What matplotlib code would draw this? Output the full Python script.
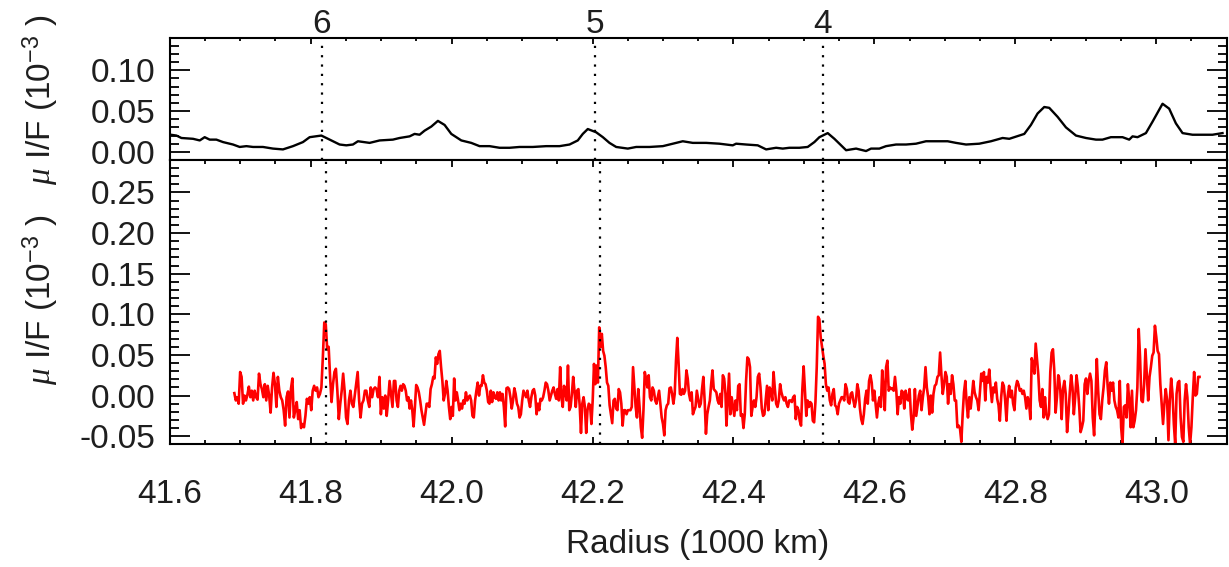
import numpy as np
import matplotlib
matplotlib.use('Agg')
import matplotlib.pyplot as plt
import matplotlib.transforms as mtransforms
from matplotlib.ticker import MultipleLocator, FormatStrFormatter

plt.rcParams['font.family'] = ['Liberation Sans', 'DejaVu Sans']
plt.rcParams['mathtext.fontset'] = 'custom'
plt.rcParams['mathtext.rm'] = 'Liberation Sans'
plt.rcParams['mathtext.it'] = 'Liberation Serif:italic'
plt.rcParams['mathtext.bf'] = 'Liberation Sans:bold'
plt.rcParams['axes.unicode_minus'] = False

# ---- data -------------------------------------------------------------
# top panel: smooth profile (radius in 1000 km, mu I/F in 1e-3)
black_r = [41.6014, 41.6095, 41.6166, 41.6331, 41.6426, 41.6496, 41.6567, 41.6662,
           41.6756, 41.6898, 41.6993, 41.7088, 41.7182, 41.7323, 41.7465, 41.7607,
           41.7749, 41.7891, 41.7986, 41.8152, 41.8270, 41.8411, 41.8506, 41.8600,
           41.8671, 41.8837, 41.8979, 41.9167,
           41.9262, 41.9404, 41.9475, 41.9546, 41.9617, 41.9712, 41.9806, 41.9901,
           41.9996, 42.0138, 42.0279, 42.0397, 42.0539, 42.0681, 42.0823, 42.0965,
           42.1153, 42.1343, 42.1532, 42.1674, 42.1791, 42.1862, 42.1933, 42.2052,
           42.2147, 42.2241, 42.2336, 42.2501, 42.2620, 42.2809, 42.2998, 42.3140,
           42.3281, 42.3423, 42.3613, 42.3801, 42.3990, 42.4038, 42.4180, 42.4345,
           42.4464, 42.4606, 42.4700, 42.4794, 42.4936, 42.5054, 42.5149, 42.5220,
           42.5267, 42.5338, 42.5433, 42.5599, 42.5741, 42.5882, 42.5953, 42.6071,
           42.6166, 42.6308, 42.6450, 42.6591, 42.6733, 42.6875, 42.7040, 42.7159,
           42.7301, 42.7489, 42.7655, 42.7820, 42.7915, 42.8057, 42.8128, 42.8222,
           42.8316, 42.8411, 42.8482, 42.8600, 42.8719, 42.8861, 42.9003, 42.9145,
           42.9238, 42.9357, 42.9522, 42.9617, 42.9664, 42.9735, 42.9854, 42.9948,
           43.0090, 43.0184, 43.0279, 43.0374, 43.0515, 43.0657, 43.0799, 43.0941]
black_v = [0.021, 0.020, 0.017, 0.016, 0.014, 0.018, 0.015, 0.015, 0.012, 0.009,
           0.006, 0.007, 0.006, 0.006, 0.004, 0.003, 0.007, 0.012, 0.018, 0.020,
           0.015, 0.009, 0.008, 0.009, 0.013, 0.011, 0.014, 0.015,
           0.017, 0.019, 0.022, 0.021, 0.026, 0.031, 0.038, 0.033, 0.022, 0.014,
           0.011, 0.007, 0.007, 0.005, 0.005, 0.006, 0.006, 0.007, 0.007, 0.009,
           0.014, 0.022, 0.028, 0.024, 0.018, 0.011, 0.006, 0.004, 0.006, 0.006,
           0.007, 0.010, 0.013, 0.011, 0.011, 0.010, 0.008, 0.010, 0.009, 0.008,
           0.003, 0.005, 0.004, 0.005, 0.005, 0.006, 0.012, 0.018,
           0.020, 0.023, 0.016, 0.002, 0.004, 0.001, 0.004, 0.004, 0.007, 0.009,
           0.009, 0.010, 0.013, 0.013, 0.013, 0.011, 0.009, 0.010, 0.013, 0.017,
           0.016, 0.020, 0.022, 0.033, 0.047, 0.055, 0.054, 0.043, 0.030, 0.020,
           0.017, 0.015, 0.015, 0.018, 0.018, 0.015, 0.019, 0.018, 0.023, 0.037,
           0.059, 0.053, 0.035, 0.023, 0.021, 0.021, 0.021, 0.023]

# bottom panel: noisy scan, values in thousandths of the axis unit
red_seg_edges = [(41.6917, 41.9182), (41.9201, 42.1522), (42.1541, 42.3887),
                 (42.3901, 42.6241), (42.6255, 42.8610), (42.8620, 43.0615)]
red_seg1 = [3, -6, -2, -10, 29, 23, -10, 0, -6, 1, 11, -2, 6, -6, 6, -2, -5, 27, 14, 8,
            -2, 14, -6, 12, 0, -21, 10, 28, 14, -14, 23, 6, -2, -6, -18, -37, -2, 5, -27, 8,
            21, -27, -18, -8, -29, -18, -40, -35, -39, -25, -4, -10, -2, -18, 6, 12, 6, 10, -2, 2,
            10, 47, 90, 88, 57, 60, 23, -8, 14, 29, 33, 6, -29, -10, 6, 27, 6, -27, -35, -6,
            6, -10, -14, 0, 14, 29, -6, -27, -10, -6, 6, 6, -6, -14, 10, -2, 8, 10, 8, -2,
            23, -23, -2, -16, 0, -25, -6, 18, 2, -14, 18]
red_seg2 = [18, -6, -14, 6, 12, 6, 14, 12, 6, -6, -2, -16, -6, -18, -38, -14, 13, 10, 4, -6,
            -18, -27, -36, -23, -10, -10, -14, 8, 14, 23, 21, 47, 39, 51, 55, 35, 18, -6, 2, 18,
            6, -14, -29, -14, -25, 21, -6, 4, -6, -18, -10, -16, -6, -10, 4, -6, -2, 0, -6, -25,
            -27, -6, 6, 16, 0, 12, 12, 25, 16, 14, 6, -8, -10, 6, -8, 4, -2, -4, 4, -6,
            4, -6, 2, -14, -38, 9, 10, 8, -2, -16, -6, 9, 2, -10, -14, -27, -23, -6, 6, 2,
            -2, 6, -6, -14, -2, 6, 8, 0, -23, -10, -18, -4, -6, -2, 6, 16, 14, 6, -6, 0,
            6, 10, 2, -4, 8, -6]
red_seg3 = [35, -2, -14, 12, 4, -6, 37, -18, -14, 2, 23, 6, -14, 6, 8, -12, -46, -10, -2, -14,
            -46, -18, -10, -12, -35, -6, 39, 14, 37, 16, 84, 60, 76, 55, 49, 35, 16, 12, -12, -23,
            -34, -6, -4, -16, -18, 8, 4, -10, -37, -18, -18, -23, -18, -18, -18, -14, 35, 10, -14, -27,
            8, -14, -39, -52, -18, 29, 21, 10, 25, -2, -6, 10, 6, -6, -10, -2, 6, -10, -27, -35,
            -49, -18, -12, -10, 9, 10, 2, -10, 2, 43, 71, 39, 2, 1, 8, 2, 6, 31, 21, 2,
            -6, 4, -23, -18, -14, 6, -4, -14, -10, 8, 23, -6, -47, -23, -14, -6, 14, 31, 8, 6,
            4, -6, -10, 2, -14, 25, 21, 2]
red_seg4 = [-37, -6, 27, -23, -2, -14, -25, -6, -18, 12, 14, -25, -23, -40, -23, 18, 47, 45, 35, -25,
            -14, -6, -14, -2, 23, 27, 10, -16, -25, -23, -6, 12, -18, 10, 6, -6, 29, 8, -10, -14,
            -6, 14, 4, -2, -6, -2, -10, -14, -6, -6, -8, -2, 0, -29, -14, -18, -31, -37, 8, 36,
            6, -25, -6, -14, -8, -10, -31, -33, -8, 35, 97, 94, 72, 60, 49, 39, 14, 6, 10, -6,
            -12, 2, 8, -12, -14, -23, -10, -6, -2, -2, -6, 14, 8, -8, -10, 2, 4, -6, -14, -6,
            14, 6, -16, -29, -35, -23, -4, 6, -10, 18, 25, 16, -6, 6, -10, -27, -10, -2, -14, 31,
            10, -18, 35, 43, 6, 10, 8]
red_seg5 = [9, 6, 23, 6, -23, -2, -10, 6, 4, -16, 6, -4, -6, 8, -23, -42, -27, 8, -25, -12,
            0, 6, -18, -2, 10, 35, 10, -2, -23, 0, -21, 2, 12, 14, 23, 25, 53, 25, 2, 14,
            29, 23, -10, 14, 2, 25, 14, -6, -6, -39, -37, -41, -57, -23, 4, 18, -10, -27, -2, -16,
            0, 18, 4, -2, -6, -18, 4, 27, 18, 29, -6, 23, 16, 32, 10, -8, 10, 4, 16, -4,
            -12, -31, -2, 16, 12, -6, -31, 0, 12, -2, 6, -10, -18, 10, 18, 14, 6, 8, 2, 6,
            -2, -16, -2, -8, -29, 46, 39, 27, 64, 45, 25, -6, -14, 8, -27, -2, -23, -29, -23, 29,
            53, 57, 31, -21, -2, 25]
red_seg6 = [23, 6, -29, 8, 18, 2, -45, -23, 4, 25, 10, -23, -2, 25, 10, -14, -45, -39, -31, 14,
            21, 2, 18, 27, 18, -27, -49, -6, 45, 6, -23, -29, -6, 10, 31, 41, 12, -10, 16, 6,
            16, -6, -14, -18, -27, 18, -39, -60, -14, -12, -27, 14, -6, -39, 6, -39, -31, -18, 10, 82,
            47, -6, -8, 14, 57, 25, -6, 23, 35, 49, 53, 86, 72, 55, 51, 14, -10, -35, -10, 8,
            -6, -55, -6, 21, 2, -35, -60, 2, 16, 18, -27, -51, -57, -6, 14, -2, -39, -60, -39, -2,
            29, 0, 2, 23, 23]
red_segs = [red_seg1, red_seg2, red_seg3, red_seg4, red_seg5, red_seg6]

# resonance markers (top and bottom panel positions differ slightly)
res_labels = ['6', '5', '4']
res_top = [41.816, 42.203, 42.527]
res_bot = [41.822, 42.211, 42.527]

# ---- figure -----------------------------------------------------------
fig = plt.figure(figsize=(12.29, 5.67), dpi=100)
ax1 = fig.add_axes([0.1381, 0.7178, 0.8600, 0.2157])
ax2 = fig.add_axes([0.1381, 0.2164, 0.8600, 0.5014])

txt = '#1e1e1e'
fs = 24

ax1.plot(black_r, black_v, color='black', lw=1.7)

# stitch the scan segments into one trace
red_r = np.concatenate([np.linspace(r0, r1, len(seg))
                        for (r0, r1), seg in zip(red_seg_edges, red_segs)])
red_v = np.concatenate([np.array(seg, dtype=float) for seg in red_segs]) / 1000.0
ax2.plot(red_r, red_v, color='#ff0000', lw=1.9)

dots = (0, (1, 3.2))
for r in res_top:
    ax1.axvline(r, color='black', lw=1.6, ls=dots)
for r in res_bot:
    ax2.axvline(r, color='black', lw=1.6, ls=dots)

trans = mtransforms.blended_transform_factory(ax1.transData, ax1.transAxes)
for lab, r in zip(res_labels, res_top):
    ax1.text(r, 1.04, lab, transform=trans, ha='center', va='baseline',
             fontsize=fs, color=txt)

for ax in (ax1, ax2):
    ax.set_xlim(41.6, 43.1)
    ax.xaxis.set_major_locator(MultipleLocator(0.2))
    ax.xaxis.set_minor_locator(MultipleLocator(0.05))
    ax.yaxis.set_minor_locator(MultipleLocator(0.01))
    ax.yaxis.set_major_formatter(FormatStrFormatter('%.2f'))
    for s in ax.spines.values():
        s.set_linewidth(1.5)
    ax.tick_params(axis='y', which='major', direction='in', length=14.5, width=1.3,
                   left=True, right=True, labelsize=fs, labelcolor=txt, pad=10)
    ax.tick_params(axis='y', which='minor', direction='in', length=6.5, width=1.3,
                   left=True, right=True)

ax1.set_ylim(-0.01, 0.14)
ax1.yaxis.set_major_locator(MultipleLocator(0.05))
ax1.tick_params(axis='x', which='both', direction='in', top=True, bottom=False,
                labelbottom=False, width=1.3)
ax1.tick_params(axis='x', which='major', length=4)
ax1.tick_params(axis='x', which='minor', length=2.2)

ax2.set_ylim(-0.06, 0.29)
ax2.yaxis.set_major_locator(MultipleLocator(0.05))
ax2.xaxis.set_major_formatter(FormatStrFormatter('%.1f'))
ax2.tick_params(axis='x', which='both', direction='in', top=True, bottom=True,
                width=1.3, labelsize=fs, labelcolor=txt, pad=25)
ax2.tick_params(axis='x', which='major', length=4.7)
ax2.tick_params(axis='x', which='minor', length=2.9)

ylab = r'$\mu$ I/F (10$^{-3}$ )'
fig.text(61 / 1229, 1 - 100 / 567, ylab, rotation=90, ha='right', va='center',
         fontsize=fs, color=txt)
fig.text(61 / 1229, 1 - 300 / 567, ylab, rotation=90, ha='right', va='center',
         fontsize=fs, color=txt)
fig.text(698 / 1229, 1 - 545 / 567, 'Radius (1000 km)', ha='center', va='center',
         fontsize=fs, color=txt)

fig.savefig('out.png', dpi=100)
